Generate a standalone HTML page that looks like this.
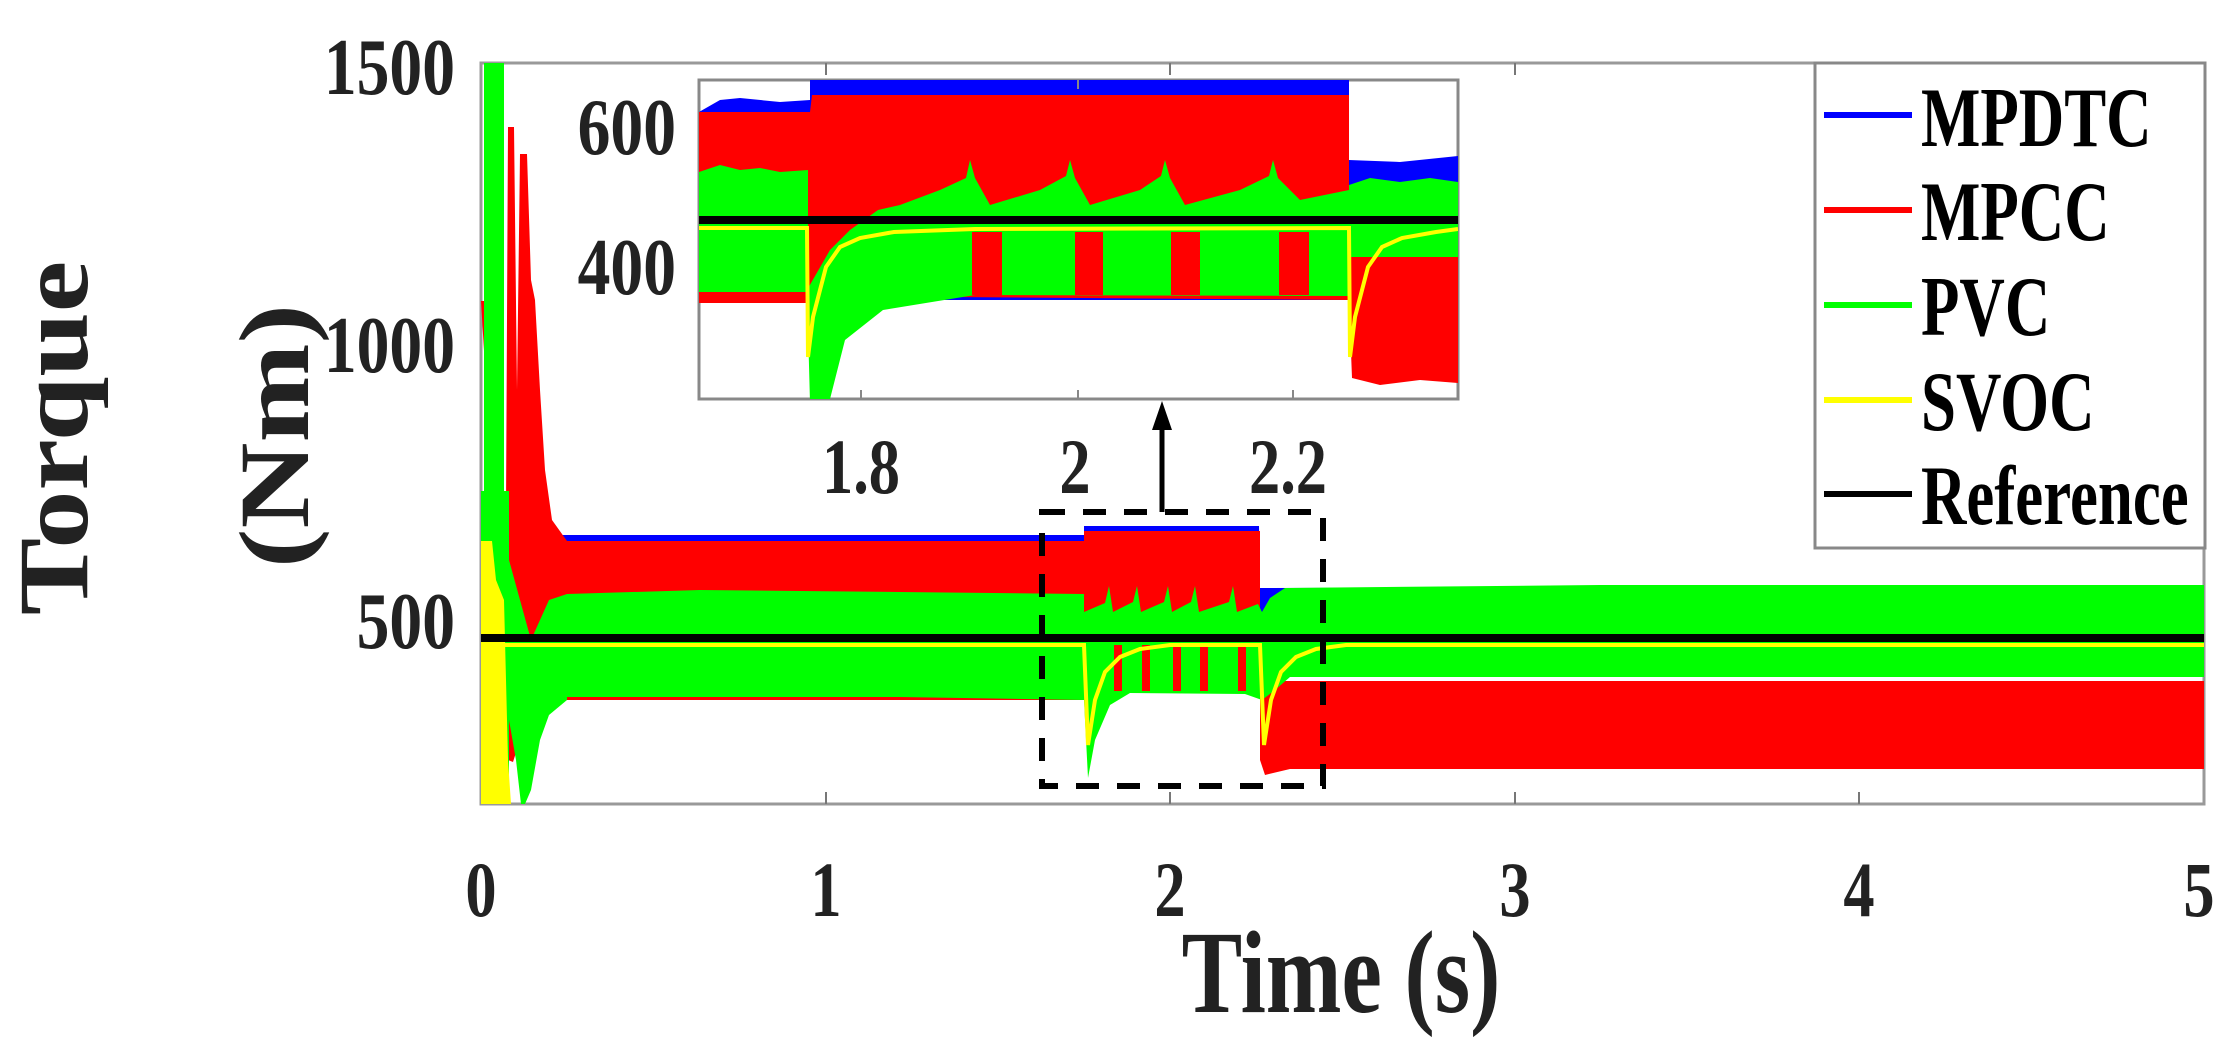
<!DOCTYPE html>
<html><head><meta charset="utf-8"><style>html,body{margin:0;padding:0;background:#fff}svg{display:block}</style></head>
<body>
<svg width="2232" height="1048" viewBox="0 0 2232 1048" xmlns="http://www.w3.org/2000/svg" font-family="'Liberation Serif', serif" font-weight="bold" fill="#222">
<defs>
<clipPath id="mc"><rect x="481" y="63" width="1723" height="741"/></clipPath>
<clipPath id="ic"><rect x="699" y="80" width="759" height="319"/></clipPath>
</defs>
<rect x="481" y="63" width="1723" height="741" fill="#fff" stroke="#999" stroke-width="3"/>
<g clip-path="url(#mc)">
<!-- blue -->
<polygon fill="#0000ff" points="560,535 1084,535 1084,526 1259,526 1260,588 2204,586 2204,640 560,640"/>
<!-- red -->
<polygon fill="#ff0000" points="481,301 485,301 485,700 505,700 508,127 514,127 517,390 520,154 527,154 531,280 535,300 540,390 545,470 552,520 567,541 1084,541 1084,531 1260,531 1260,681 2204,681 2204,769 1290,769 1265,775 1260,760 1260,693 1084,693 1084,700 567,700 545,705 530,720 520,740 513,762 508,760 505,700"/>
<!-- green -->
<polygon fill="#00ff00" points="567,594 700,590 900,592 1084,594 1084,612 1105,603 1109,586 1113,612 1133,602 1137,586 1141,612 1164,602 1168,586 1172,612 1191,602 1195,586 1199,612 1229,602 1233,586 1237,612 1258,604 1262,612 1270,598 1285,588 1600,585 2204,585 2204,677 1290,677 1275,690 1262,700 1245,694 1130,693 1110,705 1095,740 1088,778 1084,700 900,697 567,697"/>
<rect x="484" y="63" width="20" height="741" fill="#00ff00"/>
<rect x="480" y="491" width="29" height="313" fill="#00ff00"/>
<polygon fill="#00ff00" points="509,560 531,640 549,600 567,594 567,700 549,715 540,740 531,790 525,804 521,804 516,760 509,720"/>
<!-- red stripes -->
<g fill="#ff0000"><rect x="1114" y="645" width="8" height="46"/><rect x="1142" y="645" width="8" height="46"/><rect x="1173" y="645" width="8" height="46"/><rect x="1200" y="645" width="8" height="46"/><rect x="1238" y="645" width="8" height="46"/></g>
<!-- yellow -->
<polygon fill="#ffff00" points="480,541 492,541 496,580 504,600 508,760 511,804 480,804"/>
<polyline fill="none" stroke="#ffff00" stroke-width="4" points="481,645 1084,645 1088,745 1095,700 1105,672 1120,657 1140,649 1170,645 1260,645 1264,745 1271,700 1281,672 1296,657 1316,649 1346,645 2204,645"/>
<!-- reference -->
<rect x="481" y="634" width="1723" height="8" fill="#000"/>
</g>
<!-- main ticks -->
<g stroke="#777" stroke-width="2">
<line x1="826" y1="804" x2="826" y2="792"/><line x1="1170" y1="804" x2="1170" y2="792"/><line x1="1515" y1="804" x2="1515" y2="792"/><line x1="1859" y1="804" x2="1859" y2="792"/>
<line x1="826" y1="63" x2="826" y2="75"/><line x1="1170" y1="63" x2="1170" y2="75"/><line x1="1515" y1="63" x2="1515" y2="75"/>
</g>
<!-- dashed box + arrow -->
<rect x="1042" y="512" width="281" height="274" fill="none" stroke="#000" stroke-width="6" stroke-dasharray="23,18"/>
<line x1="1162" y1="512" x2="1162" y2="420" stroke="#000" stroke-width="5"/>
<polygon points="1162,401 1152,430 1172,430" fill="#000"/>
<!-- inset -->
<rect x="699" y="80" width="759" height="319" fill="#fff" stroke="#888" stroke-width="3"/>
<g clip-path="url(#ic)">
<polygon fill="#0000ff" points="699,112 720,100 740,98 780,102 810,100 810,80 1349,80 1349,160 1400,162 1458,156 1458,300 699,300"/>
<polygon fill="#ff0000" points="699,112 810,112 812,95 1349,95 1349,190 1458,190 1458,383 1420,380 1380,385 1352,378 1349,300 810,296 810,303 699,303"/>
<polygon fill="#00ff00" points="699,172 720,165 740,170 760,168 780,172 808,170 808,292 699,292"/>
<polygon fill="#00ff00" points="807,290 830,250 850,230 878,210 900,205 940,190 966,178 970,160 975,178 990,205 1040,190 1066,176 1070,160 1075,178 1090,205 1140,190 1161,176 1165,160 1170,178 1185,205 1240,190 1269,176 1273,160 1278,178 1300,200 1349,190 1349,296 975,295 883,310 845,340 829,403 810,403"/>
<polygon fill="#00ff00" points="1349,185 1370,178 1400,182 1430,178 1458,182 1458,257 1349,257"/>
<g fill="#ff0000"><rect x="972" y="232" width="30" height="63"/><rect x="1075" y="232" width="28" height="63"/><rect x="1171" y="232" width="29" height="63"/><rect x="1279" y="232" width="30" height="63"/></g>
<polyline fill="none" stroke="#ffff00" stroke-width="4" points="699,228 807,228 808,357 813,317 826,267 840,247 860,238 894,232 975,229 1349,228 1350,357 1355,317 1368,267 1382,247 1402,238 1436,232 1458,229"/>
<rect x="699" y="216" width="759" height="8" fill="#000"/>
</g>
<g stroke="#888" stroke-width="2"><line x1="861" y1="399" x2="861" y2="390"/><line x1="1078" y1="399" x2="1078" y2="390"/><line x1="1293" y1="399" x2="1293" y2="390"/><line x1="1078" y1="80" x2="1078" y2="89"/></g>
<!-- legend -->
<rect x="1815" y="63" width="390" height="485" fill="#fff" stroke="#888" stroke-width="3"/>
<g stroke-width="6"><line x1="1824" y1="115" x2="1912" y2="115" stroke="#0000ff"/><line x1="1824" y1="210" x2="1912" y2="210" stroke="#ff0000"/><line x1="1824" y1="305" x2="1912" y2="305" stroke="#00ff00"/><line x1="1824" y1="400" x2="1912" y2="400" stroke="#ffff00"/><line x1="1824" y1="494" x2="1912" y2="494" stroke="#000"/></g>
<g font-size="85" fill="#000">
<text transform="translate(1921,146) scale(0.74,1)">MPDTC</text>
<text transform="translate(1921,240) scale(0.74,1)">MPCC</text>
<text transform="translate(1921,335) scale(0.74,1)">PVC</text>
<text transform="translate(1921,430) scale(0.74,1)">SVOC</text>
<text transform="translate(1921,524) scale(0.74,1)">Reference</text>
</g>
<!-- y tick labels -->
<g font-size="80" text-anchor="end">
<text transform="translate(455,94) scale(0.82,1)">1500</text>
<text transform="translate(455,372) scale(0.82,1)">1000</text>
<text transform="translate(455,648) scale(0.82,1)">500</text>
<text transform="translate(676,154) scale(0.82,1)">600</text>
<text transform="translate(676,294) scale(0.82,1)">400</text>
</g>
<g font-size="78" text-anchor="middle">
<text transform="translate(481,916) scale(0.8,1)">0</text>
<text transform="translate(826,916) scale(0.8,1)">1</text>
<text transform="translate(1170,916) scale(0.8,1)">2</text>
<text transform="translate(1515,916) scale(0.8,1)">3</text>
<text transform="translate(1859,916) scale(0.8,1)">4</text>
<text transform="translate(2199,916) scale(0.8,1)">5</text>
<text transform="translate(861,493) scale(0.8,1)">1.8</text>
<text transform="translate(1075,493) scale(0.8,1)">2</text>
<text transform="translate(1288,493) scale(0.8,1)">2.2</text>
</g>
<text font-size="118" text-anchor="middle" transform="translate(1341,1012) scale(0.77,1)">Time (s)</text>
<text font-size="100" text-anchor="middle" transform="translate(87,438) rotate(-90) scale(1.16,1)">Torque</text>
<text font-size="100" text-anchor="middle" transform="translate(308,436) rotate(-90) scale(1.19,1)">(Nm)</text>
</svg>
</body></html>
